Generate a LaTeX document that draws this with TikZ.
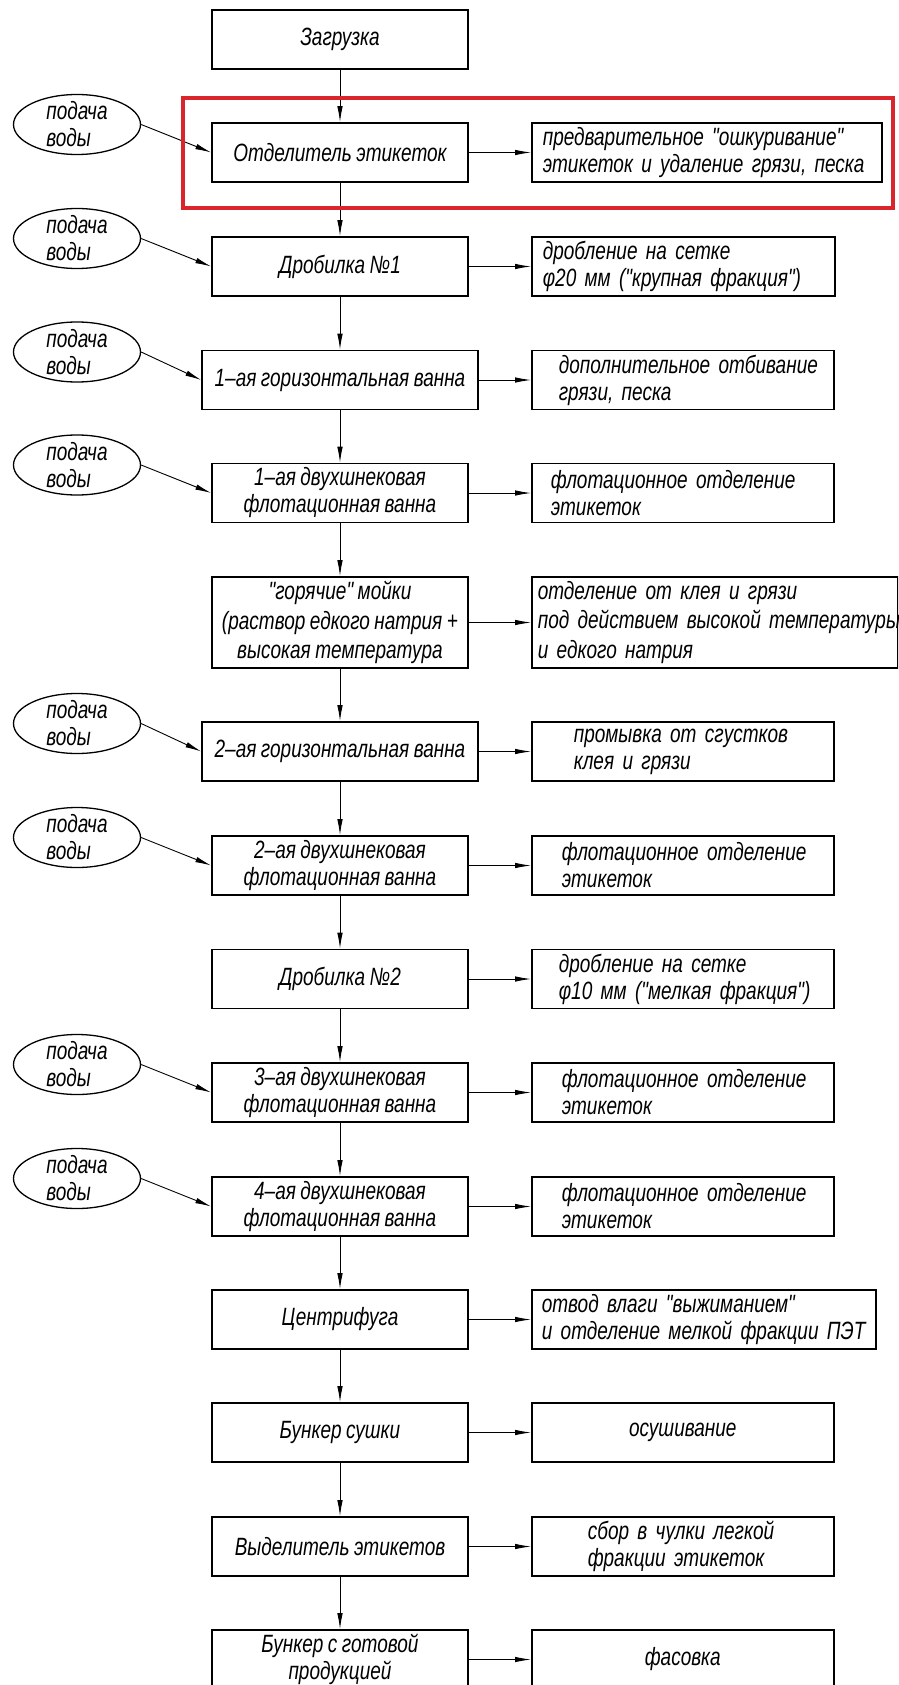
\documentclass[tikz,border=0pt]{standalone}
\usepackage{fontspec}
\newfontfamily\gost{Liberation Sans}[FakeStretch=0.76, WordSpace=0.85]
\usetikzlibrary{arrows.meta,shapes.geometric}
\definecolor{hl}{RGB}{218,37,45}
\tikzset{
  txt/.style={font=\gost\itshape\fontsize{25}{27}\selectfont},
  mbox/.style={txt, draw, line width=1.6pt, rectangle, minimum width=256pt, minimum height=59pt, inner xsep=0pt, inner ysep=0pt, align=center},
  rbox/.style={txt, draw, line width=1.6pt, rectangle, anchor=west, minimum height=59pt, inner ysep=0pt, align=left},
  water/.style={txt, draw, line width=1.3pt, ellipse, minimum width=127pt, minimum height=60pt, inner sep=-14pt, align=left},
  arr/.style={line width=0.9pt, -{Latex[length=16pt,width=5.5pt]}},
  hlbox/.style={draw=hl, line width=4.5pt},
}
\begin{document}
\begin{tikzpicture}[x=1pt,y=-1pt]
\clip (0,0) rectangle (898,1685);
\fill[white] (0,0) rectangle (898,1685);

% main column
\node[mbox] (b1) at (340,39.5) {Загрузка};
\node[mbox] (b2) at (340,152.5) {Отделитель этикеток};
\node[mbox] (b3) at (340,266.5) {Дробилка №1};
\node[mbox, minimum width=276pt] (b4) at (340,380) {1–ая горизонтальная ванна};
\node[mbox] (b5) at (340,493) {1–ая двухшнековая\\флотационная ванна};
\node[mbox, minimum height=91pt, font=\gost\itshape\fontsize{25}{29.5}\selectfont] (b6) at (340,622.5) {"горячие" мойки\\(раствор едкого натрия +\\высокая температура};
\node[mbox, minimum width=276pt] (b7) at (340,751.5) {2–ая горизонтальная ванна};
\node[mbox] (b8) at (340,865.5) {2–ая двухшнековая\\флотационная ванна};
\node[mbox] (b9) at (340,979) {Дробилка №2};
\node[mbox] (b10) at (340,1092.5) {3–ая двухшнековая\\флотационная ванна};
\node[mbox] (b11) at (340,1206.5) {4–ая двухшнековая\\флотационная ванна};
\node[mbox] (b12) at (340,1319.5) {Центрифуга};
\node[mbox] (b13) at (340,1432.5) {Бункер сушки};
\node[mbox] (b14) at (340,1546.5) {Выделитель этикетов};
\node[mbox] (b15) at (340,1659.5) {Бункер с готовой\\продукцией};

% right column
\node[rbox, text width=328pt, inner xsep=11pt] (r2) at (531,152.5) {\mbox{предварительное "ошкуривание"}\\\mbox{этикеток и удаление грязи, песка}};
\node[rbox, text width=281pt, inner xsep=11pt] (r3) at (531,266.5) {\mbox{дробление на сетке}\\\mbox{φ20 мм ("крупная фракция")}};
\node[rbox, text width=248pt, inner xsep=27pt] (r4) at (531,380) {\mbox{дополнительное отбивание}\\\mbox{грязи, песка}};
\node[rbox, text width=264pt, inner xsep=19pt] (r5) at (531,493) {\mbox{флотационное отделение}\\\mbox{этикеток}};
\node[rbox, text width=354pt, inner xsep=6pt, minimum height=91pt, font=\gost\itshape\fontsize{25}{29.5}\selectfont] (r6) at (531,622.5) {\mbox{отделение от клея и грязи}\\\mbox{под действием высокой температуры}\\\mbox{и едкого натрия}};
\node[rbox, text width=218pt, inner xsep=42pt] (r7) at (531,751.5) {\mbox{промывка от сгустков}\\\mbox{клея и грязи}};
\node[rbox, text width=242pt, inner xsep=30pt] (r8) at (531,865.5) {\mbox{флотационное отделение}\\\mbox{этикеток}};
\node[rbox, text width=248pt, inner xsep=27pt] (r9) at (531,979) {\mbox{дробление на сетке}\\\mbox{φ10 мм ("мелкая фракция")}};
\node[rbox, text width=242pt, inner xsep=30pt] (r10) at (531,1092.5) {\mbox{флотационное отделение}\\\mbox{этикеток}};
\node[rbox, text width=242pt, inner xsep=30pt] (r11) at (531,1206.5) {\mbox{флотационное отделение}\\\mbox{этикеток}};
\node[rbox, text width=324pt, inner xsep=10pt] (r12) at (531,1319.5) {\mbox{отвод влаги "выжиманием"}\\\mbox{и отделение мелкой фракции ПЭТ}};
\node[rbox, text width=290pt, inner xsep=6pt, align=center] (r13) at (531,1432.5) {осушивание};
\node[rbox, text width=190pt, inner xsep=56pt] (r14) at (531,1546.5) {\mbox{сбор в чулки легкой}\\\mbox{фракции этикеток}};
\node[rbox, text width=290pt, inner xsep=6pt, align=center] (r15) at (531,1659.5) {фасовка};

% water supply
\node[water] (e2) at (77,124.5) {подача\\воды};
\node[water] (e3) at (77,238.5) {подача\\воды};
\node[water] (e4) at (77,352) {подача\\воды};
\node[water] (e5) at (77,465) {подача\\воды};
\node[water] (e7) at (77,723.5) {подача\\воды};
\node[water] (e8) at (77,837.5) {подача\\воды};
\node[water] (e10) at (77,1064.5) {подача\\воды};
\node[water] (e11) at (77,1178.5) {подача\\воды};

% connectors
\foreach \a/\b in {b1/b2,b2/b3,b3/b4,b4/b5,b5/b6,b6/b7,b7/b8,b8/b9,b9/b10,b10/b11,b11/b12,b12/b13,b13/b14,b14/b15}
  \draw[arr] (\a.south) -- (\b.north);
\foreach \i in {2,...,15}
  \draw[arr] (b\i.east) -- (r\i.west);
\foreach \i in {2,3,4,5,7,8,10,11}
  \draw[arr] (e\i.east) -- (b\i.west);

% highlight
\draw[hlbox] (183,98) rectangle (893,208);
\end{tikzpicture}
\end{document}
